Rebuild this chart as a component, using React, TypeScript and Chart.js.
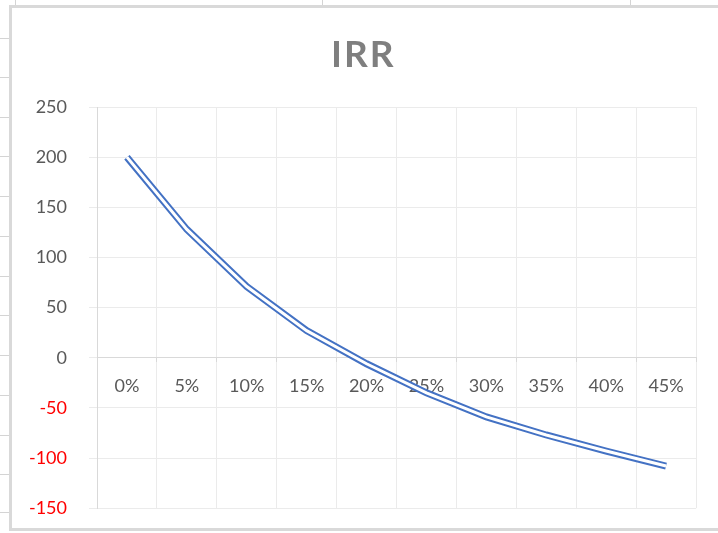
import React, { useEffect, useRef } from 'react';
import { Chart, registerables } from 'chart.js';

Chart.register(...registerables);

// ---- data ----
const TITLE = 'IRR';
const RATES = ['0%', '5%', '10%', '15%', '20%', '25%', '30%', '35%', '40%', '45%'];
const NPV = [200, 128, 71, 27, -6, -35, -59, -77, -93, -108];
const Y_MIN = -150;
const Y_MAX = 250;
const Y_STEP = 50;

// ---- spreadsheet backdrop (layout only) ----
const SHEET_ROW_LINES = [38, 77, 117, 156, 196, 236, 276, 315, 355, 395, 435, 474, 512];
const SHEET_COL_LINES = [15, 322, 630];

const FONT = 'Lato, "Open Sans", sans-serif';

export default function App() {
  const ref = useRef<HTMLCanvasElement>(null);

  useEffect(() => {
    const titlePlugin = {
      id: 'spacedTitle',
      afterDraw(chart: any) {
        const ctx = chart.ctx as CanvasRenderingContext2D;
        ctx.save();
        ctx.font = `bold 37px ${FONT}`;
        ctx.fillStyle = '#7f7f7f';
        (ctx as any).letterSpacing = '2px';
        ctx.textAlign = 'left';
        ctx.textBaseline = 'alphabetic';
        ctx.fillText(TITLE, 319, 59);
        ctx.restore();
      },
    };

    const chart = new Chart(ref.current!, {
      type: 'line',
      data: {
        labels: RATES,
        datasets: [
          { data: NPV, borderColor: '#ffffff', borderWidth: 3, pointRadius: 0, tension: 0 },
          { data: NPV, borderColor: '#4472c4', borderWidth: 7, pointRadius: 0, tension: 0 },
        ],
      },
      options: {
        animation: false,
        responsive: false,
        layout: { padding: { top: 99, right: 22, bottom: 0, left: 0 } },
        plugins: {
          legend: { display: false },
          title: { display: false },
          tooltip: { enabled: false },
        },
        scales: {
          x: {
            type: 'category',
            offset: true,
            position: { y: 0 } as any,
            grid: {
              offset: true,
              color: '#ebebeb',
              lineWidth: 1,
              drawTicks: true,
              tickLength: 4,
              tickColor: '#d9d9d9',
            },
            border: { color: '#d9d9d9', width: 1 },
            ticks: {
              color: '#595959',
              font: { family: FONT, size: 18 },
              padding: 14,
              maxRotation: 0,
              autoSkip: false,
            },
          },
          y: {
            min: Y_MIN,
            max: Y_MAX,
            ticks: {
              stepSize: Y_STEP,
              color: (c: any) => (c.tick && c.tick.value < 0 ? '#ff0000' : '#595959'),
              font: { family: FONT, size: 18 },
              padding: 22,
            },
            grid: { color: '#ebebeb', tickLength: 8, tickColor: '#ebebeb' },
            border: { color: '#d9d9d9', width: 1 },
            afterFit: (s: any) => {
              s.width = 85;
            },
          },
        },
      },
      plugins: [titlePlugin],
    });
    return () => chart.destroy();
  }, []);

  return (
    <div style={{ position: 'absolute', left: 0, top: 0, width: 718, height: 533, background: '#ffffff', overflow: 'hidden' }}>
      {SHEET_ROW_LINES.map((y) => (
        <div key={'r' + y} style={{ position: 'absolute', left: 0, top: y, width: 9, height: 1, background: '#d4d4d4' }} />
      ))}
      {SHEET_COL_LINES.map((x) => (
        <div key={'c' + x} style={{ position: 'absolute', left: x, top: 0, width: 1, height: 5, background: '#d4d4d4' }} />
      ))}
      <div
        style={{
          position: 'absolute',
          left: 9,
          top: 5,
          width: 720,
          height: 520,
          border: '3px solid #d9d9d9',
          background: '#ffffff',
        }}
      />
      <canvas ref={ref} width={706} height={533} style={{ position: 'absolute', left: 12, top: 8, width: 706, height: 533 }} />
    </div>
  );
}
